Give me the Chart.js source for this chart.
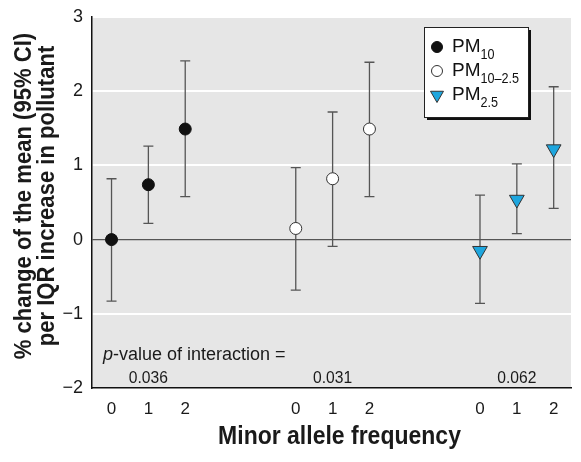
<!DOCTYPE html>
<html>
<head>
<meta charset="utf-8">
<script src="https://cdn.jsdelivr.net/npm/chart.js@4"></script>
<style>
  html, body { margin: 0; padding: 0; background: #fff; }
  #wrap { width: 581px; height: 462px; }
</style>
</head>
<body>
<div id="wrap"><canvas id="chart" width="581" height="462"></canvas></div>
<script>
// ===== DATA =====
const genotypes = ["0", "1", "2"];
const groupOffsets = [0, 5, 10]; // x position of genotype 0 in each pollutant group

const pm10Mean = [0.0, 0.74, 1.49];
const pm10Low = [-0.83, 0.22, 0.58];
const pm10High = [0.82, 1.26, 2.41];

const pmCoarseMean = [0.15, 0.82, 1.49];
const pmCoarseLow = [-0.68, -0.09, 0.58];
const pmCoarseHigh = [0.97, 1.72, 2.39];

const pm25Mean = [-0.15, 0.54, 1.22];
const pm25Low = [-0.86, 0.08, 0.42];
const pm25High = [0.6, 1.02, 2.06];

const pValues = ["0.036", "0.031", "0.062"];

const yTitle = ["% change of the mean (95% CI)", "per IQR increase in pollutant"];
const xTitle = "Minor allele frequency";

const FONT = "'Liberation Sans', Arial, sans-serif";

function makePoints(groupIdx, mean, low, high) {
  return mean.map((m, i) => ({ x: groupOffsets[groupIdx] + i, y: m, lo: low[i], hi: high[i] }));
}

// draw text squeezed horizontally (the original uses a condensed face)
function condensedText(ctx, text, x, y, sx) {
  ctx.save();
  ctx.translate(x, y);
  ctx.scale(sx, 1);
  ctx.fillText(text, 0, 0);
  ctx.restore();
}

// ===== PLUGINS =====
const plotBg = {
  id: "plotBg",
  beforeDraw(chart) {
    const { ctx, chartArea: a } = chart;
    ctx.save();
    ctx.fillStyle = "#e6e6e6";
    ctx.fillRect(a.left, a.top, a.right - a.left, a.bottom - a.top);
    ctx.restore();
  }
};

const errorBars = {
  id: "errorBars",
  beforeDatasetsDraw(chart) {
    const { ctx, scales } = chart;
    ctx.save();
    ctx.strokeStyle = "#555";
    ctx.lineWidth = 1.3;
    chart.data.datasets.forEach(ds => {
      ds.data.forEach(p => {
        const x = scales.x.getPixelForValue(p.x);
        const y1 = scales.y.getPixelForValue(p.lo);
        const y2 = scales.y.getPixelForValue(p.hi);
        ctx.beginPath();
        ctx.moveTo(x, y1); ctx.lineTo(x, y2);
        ctx.moveTo(x - 5, y1); ctx.lineTo(x + 5, y1);
        ctx.moveTo(x - 5, y2); ctx.lineTo(x + 5, y2);
        ctx.stroke();
      });
    });
    ctx.restore();
  }
};

const annotations = {
  id: "annotations",
  afterDraw(chart) {
    const { ctx, scales, chartArea: a } = chart;
    ctx.save();
    ctx.fillStyle = "#1a1a1a";
    ctx.textBaseline = "middle";

    // axis titles
    ctx.textAlign = "center";
    ctx.font = "bold 24px " + FONT;
    [24, 47].forEach((x, i) => {
      ctx.save();
      ctx.translate(x, a.top + 179);
      ctx.rotate(-Math.PI / 2);
      ctx.scale(0.92, 1);
      ctx.fillText(yTitle[i], 0, 0);
      ctx.restore();
    });
    ctx.font = "bold 25px " + FONT;
    condensedText(ctx, xTitle, (a.left + a.right) / 2 + 8, a.bottom + 49, 0.92);

    // p-value text
    const py = scales.y.getPixelForValue(-1.55);
    ctx.textAlign = "left";
    ctx.font = "italic 18px " + FONT;
    ctx.fillText("p", a.left + 11, py);
    const pw = ctx.measureText("p").width;
    ctx.font = "18px " + FONT;
    ctx.fillText("-value of interaction =", a.left + 11 + pw, py);

    ctx.textAlign = "center";
    ctx.font = "17px " + FONT;
    pValues.forEach((v, i) => {
      condensedText(ctx, v, scales.x.getPixelForValue(groupOffsets[i] + 1), scales.y.getPixelForValue(-1.87), 0.92);
    });

    // legend box with subscripts
    const lx = 424, ly = 27, lw = 104, lh = 90;
    ctx.fillStyle = "#111";
    ctx.fillRect(lx + 3, ly + 3, lw, lh);
    ctx.fillStyle = "#fff";
    ctx.fillRect(lx, ly, lw, lh);
    ctx.strokeStyle = "#222";
    ctx.lineWidth = 1;
    ctx.strokeRect(lx + 0.5, ly + 0.5, lw, lh);

    const items = [
      { sub: "10", ds: 0 },
      { sub: "10\u20132.5", ds: 1 },
      { sub: "2.5", ds: 2 }
    ];
    items.forEach((it, i) => {
      const cy = ly + 20 + i * 24;
      const ds = chart.data.datasets[it.ds];
      ctx.save();
      ctx.fillStyle = ds.pointBackgroundColor;
      ctx.strokeStyle = ds.pointBorderColor;
      ctx.lineWidth = 1;
      Chart.helpers.drawPoint(ctx, {
        pointStyle: ds.pointStyle,
        rotation: ds.pointRotation || 0,
        radius: ds.pointStyle === "triangle" ? 7.5 : 5.5,
        borderWidth: 1
      }, lx + 13, cy);
      ctx.restore();
      ctx.fillStyle = "#111";
      ctx.textAlign = "left";
      ctx.font = "19px " + FONT;
      ctx.fillText("PM", lx + 28, cy);
      const w = ctx.measureText("PM").width;
      ctx.font = "14px " + FONT;
      condensedText(ctx, it.sub, lx + 28 + w, cy + 8, 0.9);
    });
    ctx.restore();
  }
};

// ===== CHART =====
const ctx = document.getElementById("chart").getContext("2d");

new Chart(ctx, {
  type: "scatter",
  data: {
    datasets: [
      {
        label: "PM10",
        data: makePoints(0, pm10Mean, pm10Low, pm10High),
        pointStyle: "circle",
        pointRadius: 6,
        pointBackgroundColor: "#111",
        pointBorderColor: "#111",
        pointBorderWidth: 1
      },
      {
        label: "PM10-2.5",
        data: makePoints(1, pmCoarseMean, pmCoarseLow, pmCoarseHigh),
        pointStyle: "circle",
        pointRadius: 6,
        pointBackgroundColor: "#fff",
        pointBorderColor: "#333",
        pointBorderWidth: 1
      },
      {
        label: "PM2.5",
        data: makePoints(2, pm25Mean, pm25Low, pm25High),
        pointStyle: "triangle",
        pointRotation: 180,
        pointRadius: 8.5,
        pointBackgroundColor: "#1ea6de",
        pointBorderColor: "#333",
        pointBorderWidth: 1
      }
    ]
  },
  options: {
    responsive: false,
    animation: false,
    layout: { padding: { top: 17, right: 10, left: 0, bottom: 0 } },
    plugins: {
      legend: { display: false },
      tooltip: { enabled: false }
    },
    scales: {
      x: {
        type: "linear",
        min: -0.53,
        max: 12.47,
        afterBuildTicks(scale) {
          const t = [];
          groupOffsets.forEach(g => genotypes.forEach((_, i) => t.push({ value: g + i })));
          scale.ticks = t;
        },
        afterFit(scale) {
          scale.height = 74;
          scale.paddingLeft = 0;
          scale.paddingRight = 0;
        },
        grid: { display: false, drawTicks: false },
        border: { color: "#111", width: 1.5 },
        ticks: {
          padding: 11,
          color: "#1a1a1a",
          font: { family: FONT, size: 17 },
          callback: v => genotypes[Math.round(v) % 5]
        }
      },
      y: {
        min: -2,
        max: 3,
        afterFit(scale) {
          scale.width = 92;
          scale.paddingTop = 0;
          scale.paddingBottom = 0;
        },
        ticks: {
          stepSize: 1,
          padding: 9,
          color: "#1a1a1a",
          font: { family: FONT, size: 18 },
          callback: v => (v < 0 ? "\u2212" + Math.abs(v) : String(v))
        },
        grid: {
          drawTicks: false,
          color: c => (c.tick.value === 0 ? "#555" : "#fff"),
          lineWidth: c => (c.tick.value === 0 ? 1.3 : 2)
        },
        border: { color: "#111", width: 1.5 }
      }
    }
  },
  plugins: [plotBg, errorBars, annotations]
});
</script>
</body>
</html>
